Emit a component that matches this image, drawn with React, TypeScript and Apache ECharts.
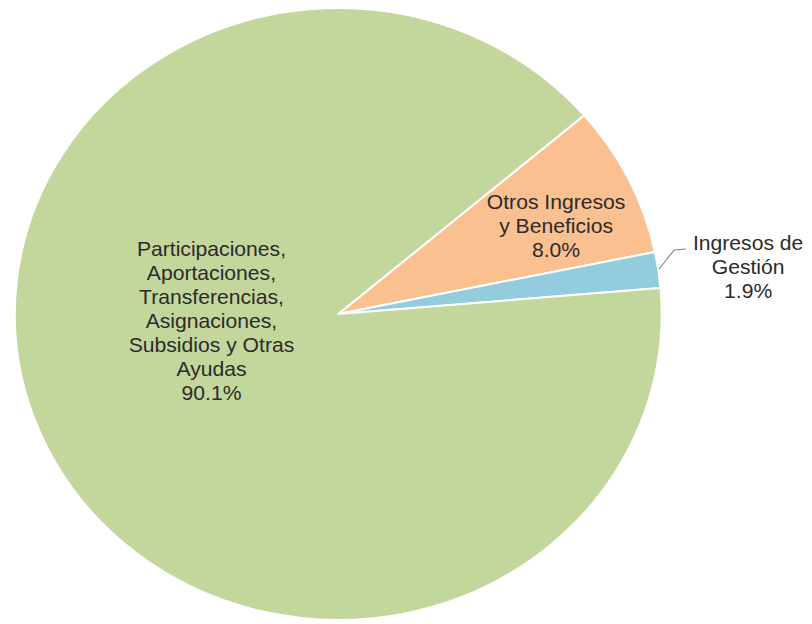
import React, { useEffect, useRef } from "react";
import * as echarts from "echarts";

const categories: string[] = [
  "Otros Ingresos\ny Beneficios",
  "Ingresos de\nGestión",
  "Participaciones,\nAportaciones,\nTransferencias,\nAsignaciones,\nSubsidios y Otras\nAyudas",
];
const values: number[] = [8.0, 1.9, 90.1];
const colors: string[] = ["#FAC090", "#93CDDD", "#C3D69B"];

const STRETCH = 1.057;
const W = 812 / STRETCH;
const H = 624;

export default function App() {
  const ref = useRef<HTMLDivElement>(null);
  useEffect(() => {
    document.body.style.margin = "0";
    if (!ref.current) return;
    const chart = echarts.init(ref.current, undefined, { renderer: "svg" });
    chart.setOption({
      animation: false,
      backgroundColor: "#ffffff",
      series: [
        {
          type: "pie",
          center: [320, 314],
          radius: 306,
          startAngle: 40.5,
          clockwise: true,
          avoidLabelOverlap: false,
          itemStyle: { borderColor: "#ffffff", borderWidth: 2 },
          label: {
            position: "inside",
            color: "#2b2b2b",
            fontFamily: "Liberation Sans, Arial, sans-serif",
            fontSize: 20,
            lineHeight: 24,
            align: "center",
            formatter: (p: any) => `${p.name}\n${Number(p.value).toFixed(1)}%`,
          },
          labelLine: { show: false },
          labelLayout: (p: any) => {
            if (p.dataIndex === 2) return { dx: 24, dy: -53 };
            if (p.dataIndex === 0) return { dx: 66, dy: -20 };
            if (p.dataIndex === 1 && p.labelLinePoints) {
              const e = p.labelLinePoints[0];
              return {
                x: e[0] + 85,
                y: e[1] - 3,
                align: "center",
                verticalAlign: "middle",
                labelLinePoints: [
                  [e[0], e[1]],
                  [e[0] + 15, e[1] - 20],
                  [e[0] + 26, e[1] - 21],
                ],
              };
            }
            return {};
          },
          data: categories.map((name, i) => {
            const d: any = { name, value: values[i], itemStyle: { color: colors[i] } };
            if (i === 1) {
              d.label = { position: "outside", align: "center" };
              d.labelLine = {
                show: true,
                length: 18,
                length2: 12,
                lineStyle: { color: "#808080", width: 1 },
              };
            }
            return d;
          }),
        },
      ],
    });
    return () => chart.dispose();
  }, []);
  return (
    <div
      ref={ref}
      style={{
        position: "absolute",
        left: 0,
        top: 0,
        width: W,
        height: H,
        transform: `scaleX(${STRETCH})`,
        transformOrigin: "0 0",
      }}
    />
  );
}
